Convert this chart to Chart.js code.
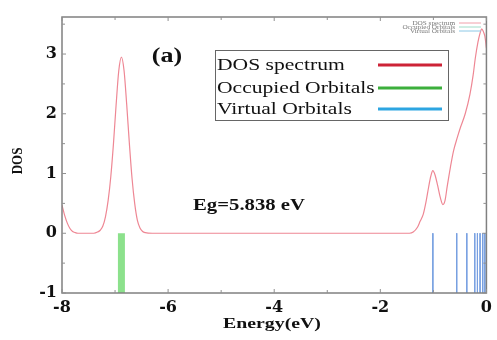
<!DOCTYPE html>
<html>
<head>
<meta charset="utf-8">
<script src="https://cdn.jsdelivr.net/npm/chart.js@4.4.1/dist/chart.umd.min.js"></script>
<style>
html,body{margin:0;padding:0;background:#fff;}
#wrap{width:497px;height:340px;}
</style>
</head>
<body>
<div id="wrap"><canvas id="c" width="497" height="340"></canvas></div>
<script>
// ---- data ----
const energy = [-8, -7.95, -7.9, -7.85, -7.8, -7.75, -7.7, -7.4, -7.33, -7.28, -7.23, -7.18, -7.13, -7.08, -7.03, -6.98, -6.93, -6.88, -6.83, -6.78, -6.73, -6.68, -6.63, -6.58, -6.53, -6.48, -6.43, -6.3, -4, -1.45, -1.38, -1.3, -1.25, -1.19, -1.14, -1.09, -1.05, -1.01, -0.97, -0.92, -0.87, -0.82, -0.78, -0.74, -0.68, -0.62, -0.55, -0.49, -0.4, -0.31, -0.25, -0.21, -0.16, -0.12, -0.09, -0.06, -0.03, 0];
const dos    = [0.47, 0.30, 0.17, 0.08, 0.03, 0.01, 0, 0, 0.02, 0.05, 0.12, 0.28, 0.55, 0.95, 1.50, 2.15, 2.72, 2.95, 2.72, 2.15, 1.50, 0.92, 0.50, 0.22, 0.09, 0.03, 0.01, 0, 0, 0, 0.02, 0.1, 0.2, 0.32, 0.52, 0.77, 0.95, 1.05, 0.98, 0.80, 0.60, 0.48, 0.55, 0.78, 1.1, 1.38, 1.6, 1.77, 2.0, 2.33, 2.65, 2.93, 3.2, 3.35, 3.42, 3.38, 3.3, 3.1];
const occupiedE = [-6.88];
const virtualE = [-1.01, -0.56, -0.37, -0.22, -0.17, -0.12, -0.07, -0.03];
const xTicks = [-8, -6, -4, -2, 0];
const yTicks = [-1, 0, 1, 2, 3];
const xMinorTicks = [-7, -5, -3, -1];
const yMinorTicks = [-0.5, 0.5, 1.5, 2.5, 3.5];
const seriesNames = ['DOS spectrum', 'Occupied Orbitals', 'Virtual Orbitals'];

function stickData(list){
  const out = [];
  list.forEach(e => { out.push({x:e, y:0}); out.push({x:e, y:-1}); out.push({x:e, y:null}); });
  return out;
}

const serif = '"Liberation Serif", "DejaVu Serif", serif';

// draw text stretched horizontally (reference glyphs are wide)
function wideText(ctx, txt, x, y, sx, align){
  ctx.save();
  ctx.translate(x, y);
  ctx.scale(sx, 1);
  ctx.textAlign = align || 'left';
  ctx.fillText(txt, 0, 0);
  ctx.restore();
}

const decor = {
  id:'decor',
  afterDatasetsDraw(chart){
    const ctx = chart.ctx, a = chart.chartArea;
    const xs = chart.scales.x, ys = chart.scales.y;
    ctx.save();
    // frame
    ctx.strokeStyle = '#808080';
    ctx.lineWidth = 1.5;
    ctx.strokeRect(a.left, a.top, a.right - a.left, a.bottom - a.top);
    // inward ticks
    ctx.lineWidth = 1;
    ctx.strokeStyle = '#909090';
    const tick = (vals, len, axis) => {
      vals.forEach(v => {
        ctx.beginPath();
        if (axis === 'x') {
          const p = xs.getPixelForValue(v);
          ctx.moveTo(p, a.bottom); ctx.lineTo(p, a.bottom - len);
          ctx.moveTo(p, a.top); ctx.lineTo(p, a.top + len);
        } else {
          const p = ys.getPixelForValue(v);
          ctx.moveTo(a.left, p); ctx.lineTo(a.left + len, p);
          ctx.moveTo(a.right, p); ctx.lineTo(a.right - len, p);
        }
        ctx.stroke();
      });
    };
    tick(xTicks, 4, 'x'); tick(xMinorTicks, 3, 'x');
    tick(yTicks, 4, 'y'); tick(yMinorTicks, 3, 'y');

    // axis titles
    ctx.fillStyle = '#111';
    ctx.textBaseline = 'middle';
    ctx.font = 'bold 15px ' + serif;
    wideText(ctx, 'Energy(eV)', 272, 324, 1.32, 'center');
    ctx.save();
    ctx.translate(18, 161);
    ctx.rotate(-Math.PI/2);
    ctx.scale(1, 1.2);
    ctx.font = 'bold 13px ' + serif;
    ctx.textAlign = 'center';
    ctx.fillText('DOS', 0, 0);
    ctx.restore();

    // (a) label
    ctx.font = 'bold 20px ' + serif;
    wideText(ctx, '(a)', 167, 57, 1.3, 'center');
    // gap label
    ctx.font = 'bold 17px ' + serif;
    wideText(ctx, 'Eg=5.838 eV', 193, 206, 1.22, 'left');

    // big legend
    ctx.fillStyle = '#fff';
    ctx.fillRect(215, 50, 233, 70);
    ctx.strokeStyle = '#666';
    ctx.lineWidth = 1;
    ctx.strokeRect(215.5, 50.5, 233, 70);
    const cols = ['rgb(205,35,55)', 'rgb(60,175,60)', 'rgb(45,165,225)'];
    const rows = [65, 88, 109];
    ctx.font = '17px ' + serif;
    seriesNames.forEach((n, i) => {
      ctx.strokeStyle = cols[i];
      ctx.lineWidth = 3;
      ctx.beginPath(); ctx.moveTo(378, rows[i]); ctx.lineTo(442, rows[i]); ctx.stroke();
      ctx.fillStyle = '#111';
      wideText(ctx, n, 217, rows[i] + 1, 1.27, 'left');
    });

    // small legend (top right)
    ctx.font = '6px ' + serif;
    const srows = [23, 27, 31];
    const scols = ['rgb(240,160,170)', 'rgb(160,220,200)', 'rgb(140,200,230)'];
    seriesNames.forEach((n, i) => {
      ctx.fillStyle = '#777';
      wideText(ctx, n, 455, srows[i], 1.2, 'right');
      ctx.strokeStyle = scols[i];
      ctx.lineWidth = 1;
      ctx.beginPath(); ctx.moveTo(459, srows[i]); ctx.lineTo(481, srows[i]); ctx.stroke();
    });
    ctx.restore();
  }
};

new Chart(document.getElementById('c'), {
  type: 'line',
  data: {
    datasets: [
      { label: seriesNames[0], data: energy.map((e, i) => ({x:e, y:dos[i]})),
        borderColor: 'rgb(238,135,148)', borderWidth: 1.2, pointRadius: 0,
        cubicInterpolationMode: 'monotone', fill: false },
      { label: seriesNames[1], data: stickData(occupiedE),
        borderColor: 'rgb(140,225,140)', borderWidth: 7, pointRadius: 0, borderCapStyle: 'butt', spanGaps: false },
      { label: seriesNames[2], data: stickData(virtualE),
        borderColor: 'rgb(120,160,225)', borderWidth: 1, pointRadius: 0, spanGaps: false }
    ]
  },
  options: {
    responsive: false,
    animation: false,
    devicePixelRatio: 1,
    layout: { padding: { top: 17, right: 9, left: 0, bottom: 0 } },
    plugins: { legend: { display: false }, tooltip: { enabled: false } },
    scales: {
      x: {
        type: 'linear', min: -8, max: 0,
        grid: { display: false, drawTicks: false },
        border: { display: false },
        afterBuildTicks: s => { s.ticks = xTicks.map(v => ({value: v})); },
        afterFit: s => { s.height = 47; },
        ticks: { color: '#111', padding: 5, maxRotation: 0, font: { family: '"DejaVu Serif", serif', size: 16, weight: 'bold' } }
      },
      y: {
        type: 'linear', min: -1, max: 3.62,
        grid: { display: false, drawTicks: false },
        border: { display: false },
        afterBuildTicks: s => { s.ticks = yTicks.map(v => ({value: v})); },
        afterFit: s => { s.width = 62; },
        ticks: { color: '#111', padding: 5, font: { family: '"DejaVu Serif", serif', size: 16, weight: 'bold' } }
      }
    }
  },
  plugins: [decor]
});
</script>
</body>
</html>
